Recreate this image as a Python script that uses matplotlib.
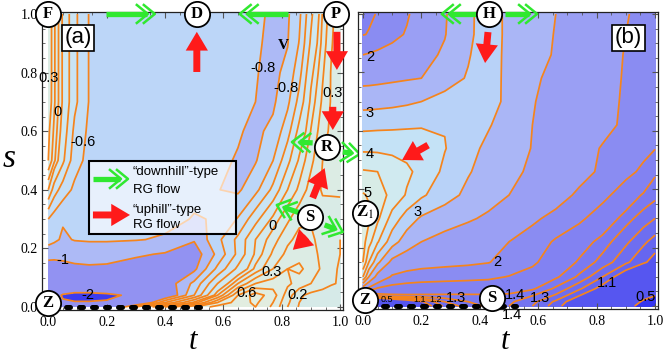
import numpy as np
import matplotlib
matplotlib.use("Agg")
import matplotlib.pyplot as plt
from matplotlib.patches import Rectangle
from matplotlib.ticker import MultipleLocator, FormatStrFormatter

plt.rcParams['mathtext.fontset'] = 'stix'
SANS = 'Liberation Sans'
SERIF = 'Liberation Serif'

# ---- panel (a): field values (rows: s ascending) ----
t_a = [0, 0.02, 0.05, 0.09, 0.14, 0.2, 0.3, 0.4, 0.5, 0.58, 0.65, 0.71, 0.77, 0.82, 0.86, 0.9, 0.94, 0.97, 1.0]
s_a = [0, 0.015, 0.04, 0.08, 0.13, 0.18, 0.23, 0.3, 0.4, 0.5, 0.6, 0.7, 0.8, 0.9, 1.0]
v_a = [
    [-1.5, -1.6, -1.7, -1.75, -1.75, -1.6, -0.6, 0.1, 0.4, 0.55, 0.6, 0.6, 0.48, 0.3, 0.19, 0.15, 0.13, 0.12, 0.12],
    [-1.6, -1.7, -1.95, -1.97, -1.97, -1.95, -1.5, -0.6, 0.05, 0.4, 0.55, 0.62, 0.5, 0.32, 0.2, 0.15, 0.13, 0.12, 0.12],
    [-1.5, -1.8, -2.05, -2.15, -2.15, -2.1, -1.9, -1.3, -0.6, 0.1, 0.5, 0.65, 0.55, 0.35, 0.22, 0.17, 0.15, 0.14, 0.13],
    [-1.25, -1.3, -1.4, -1.45, -1.45, -1.4, -1.3, -1.15, -0.75, -0.2, 0.2, 0.4, 0.45, 0.42, 0.36, 0.3, 0.25, 0.21, 0.19],
    [-1.1, -1.08, -1.06, -1.04, -1.03, -1.04, -1.1, -1.2, -1.05, -0.55, -0.15, 0.13, 0.3, 0.4, 0.42, 0.36, 0.28, 0.22, 0.19],
    [-0.93, -0.95, -0.95, -0.93, -0.92, -0.92, -0.97, -1.02, -1.12, -0.75, -0.35, 0.03, 0.22, 0.33, 0.37, 0.34, 0.27, 0.22, 0.2],
    [-0.72, -0.76, -0.83, -0.79, -0.78, -0.78, -0.79, -0.82, -0.98, -0.655, -0.35, 0.0, 0.158, 0.278, 0.33, 0.32, 0.26, 0.22, 0.2],
    [-0.6, -0.7, -0.78, -0.74, -0.72, -0.72, -0.73, -0.75, -0.81, -0.79, -0.584, -0.27, 0.042, 0.18, 0.277, 0.29, 0.26, 0.23, 0.21],
    [0.0, -0.3, -0.5, -0.64, -0.68, -0.70, -0.72, -0.74, -0.76, -0.795, -0.834, -0.661, -0.35, 0.0, 0.125, 0.247, 0.31, 0.32, 0.33],
    [0.30, 0.13, -0.16, -0.52, -0.66, -0.69, -0.71, -0.73, -0.75, -0.766, -0.813, -0.817, -0.603, -0.258, 0.028, 0.173, 0.30, 0.33, 0.34],
    [0.33, 0.18, -0.07, -0.45, -0.64, -0.69, -0.71, -0.73, -0.75, -0.765, -0.783, -0.84, -0.754, -0.477, -0.135, 0.106, 0.265, 0.32, 0.35],
    [0.39, 0.22, -0.02, -0.35, -0.61, -0.68, -0.71, -0.73, -0.75, -0.755, -0.765, -0.80, -0.834, -0.647, -0.33, 0.036, 0.221, 0.31, 0.36],
    [0.40, 0.22, -0.02, -0.35, -0.61, -0.68, -0.71, -0.73, -0.75, -0.76, -0.76, -0.789, -0.853, -0.744, -0.471, -0.042, 0.186, 0.31, 0.37],
    [0.40, 0.22, -0.02, -0.35, -0.61, -0.68, -0.71, -0.73, -0.75, -0.76, -0.765, -0.78, -0.833, -0.809, -0.59, -0.164, 0.143, 0.29, 0.37],
    [0.40, 0.22, -0.02, -0.35, -0.61, -0.68, -0.71, -0.73, -0.75, -0.76, -0.765, -0.775, -0.82, -0.826, -0.646, -0.248, 0.11, 0.27, 0.37],
]
fill_a = [-3, -2, -1, -0.8, -0.6, -0.4, -0.2, 0, 0.1, 0.2, 0.3, 0.4, 0.5, 0.6, 1.0]
cols_a = ['#3c3cf0', '#9292f2', '#adbaf6', '#bcd6f8', '#c4def6', '#c9e4f4', '#cee8f0',
          '#d2e9ec', '#d6eae8', '#d9ebe6', '#dcece4', '#dfede2', '#e2ede0', '#e4eede']
lines_a = [-2, -1, -0.8, -0.6, -0.4, -0.2, 0, 0.1, 0.2, 0.3, 0.4, 0.5, 0.6]
labels_a = [(0.0, 0.78, '0.3'), (0.033, 0.666, '0'), (0.119, 0.563, '-0.6'),
            (0.736, 0.816, '-0.8'), (0.815, 0.747, '-0.8'), (0.975, 0.73, '0.3'),
            (0.051, 0.16, '-1'), (0.136, 0.041, '-2'), (0.77, 0.276, '0'),
            (0.766, 0.119, '0.3'), (0.68, 0.048, '0.6'), (0.855, 0.041, '0.2')]

# ---- panel (b) ----
t_b = [0, 0.02, 0.05, 0.1, 0.15, 0.2, 0.28, 0.36, 0.43, 0.5, 0.58, 0.66, 0.74, 0.82, 0.9, 0.96, 1.0]
s_b = [0, 0.015, 0.035, 0.06, 0.1, 0.15, 0.22, 0.3, 0.38, 0.46, 0.54, 0.62, 0.7, 0.78, 0.86, 0.93, 1.0]
v_b = [
    [0.5, 0.45, 0.5, 0.7, 0.85, 1.0, 1.22, 1.35, 1.42, 1.4, 1.3, 1.15, 0.95, 0.75, 0.55, 0.45, 0.42],
    [0.6, 0.55, 0.6, 0.8, 0.95, 1.08, 1.3, 1.4, 1.45, 1.42, 1.33, 1.18, 1.0, 0.8, 0.6, 0.48, 0.45],
    [1.0, 1.3, 1.42, 1.46, 1.47, 1.47, 1.47, 1.47, 1.47, 1.46, 1.4, 1.28, 1.1, 0.9, 0.7, 0.55, 0.5],
    [2.2, 1.9, 1.72, 1.66, 1.64, 1.63, 1.62, 1.62, 1.62, 1.6, 1.52, 1.38, 1.22, 1.05, 0.85, 0.7, 0.62],
    [4.0, 3.0, 2.3, 1.95, 1.88, 1.85, 1.83, 1.81, 1.79, 1.74, 1.66, 1.52, 1.38, 1.2, 1.0, 0.85, 0.75],
    [5.0, 4.0, 3.1, 2.35, 2.18, 2.12, 2.08, 2.05, 2.01, 1.9, 1.79, 1.62, 1.48, 1.36, 1.22, 1.12, 1.05],
    [5.2, 4.7, 4.05, 3.2, 2.75, 2.5, 2.32, 2.2, 2.1, 2.0, 1.88, 1.72, 1.58, 1.45, 1.32, 1.22, 1.16],
    [5.3, 5.1, 4.6, 3.8, 3.25, 2.93, 2.72, 2.56, 2.42, 2.27, 2.05, 1.92, 1.8, 1.62, 1.44, 1.35, 1.3],
    [5.05, 4.95, 4.75, 4.35, 3.95, 3.58, 3.2, 2.88, 2.68, 2.5, 2.33, 2.12, 1.95, 1.82, 1.62, 1.48, 1.43],
    [4.55, 4.53, 4.5, 4.3, 4.1, 3.85, 3.4, 3.04, 2.8, 2.62, 2.42, 2.27, 2.1, 1.95, 1.82, 1.7, 1.52],
    [3.9, 3.9, 3.89, 3.87, 3.83, 3.75, 3.52, 3.2, 2.85, 2.62, 2.49, 2.34, 2.12, 1.98, 1.9, 1.82, 1.76],
    [3.35, 3.36, 3.38, 3.4, 3.43, 3.46, 3.48, 3.42, 3.05, 2.7, 2.5, 2.36, 2.22, 2.08, 1.95, 1.85, 1.78],
    [2.8, 2.8, 2.82, 2.86, 2.92, 3.0, 3.2, 3.35, 3.45, 2.7, 2.52, 2.38, 2.25, 2.1, 1.96, 1.86, 1.79],
    [2.35, 2.36, 2.38, 2.42, 2.46, 2.5, 2.75, 3.05, 3.4, 2.75, 2.55, 2.42, 2.28, 2.12, 1.97, 1.87, 1.8],
    [2.0, 2.02, 2.06, 2.14, 2.24, 2.36, 2.56, 2.95, 3.35, 2.8, 2.66, 2.46, 2.3, 2.14, 1.98, 1.88, 1.82],
    [1.74, 1.76, 1.8, 1.9, 2.03, 2.2, 2.48, 2.88, 3.3, 2.85, 2.67, 2.48, 2.33, 2.16, 2.0, 1.9, 1.84],
    [1.7, 1.72, 1.76, 1.84, 1.96, 2.16, 2.46, 2.87, 3.3, 2.85, 2.68, 2.5, 2.35, 2.18, 2.02, 1.92, 1.85],
]
fill_b = [0, 0.5, 1.1, 1.2, 1.3, 1.4, 1.5, 1.75, 2, 2.5, 3, 3.5, 4, 4.5, 5, 6]
cols_b = ['#3434ee', '#5656f0', '#6666f0', '#6e6ef0', '#7474f0', '#7a7af2', '#8282f2', '#8a8cf2',
          '#9a9ff4', '#aab6f6', '#b8d2f8', '#c4e2f6', '#d0eaf0', '#d8ece6', '#e0eee0']
lines_b = [0.5, 1.1, 1.2, 1.3, 1.4, 1.5, 1.75, 2, 2.5, 3, 3.5, 4, 4.5, 5]
labels_b = [(0.024, 0.853, '2', 10.5), (0.024, 0.661, '3', 10.5), (0.024, 0.52, '4', 10.5),
            (0.017, 0.387, '5', 10.5), (0.188, 0.322, '3', 10.5), (0.459, 0.151, '2', 10.5),
            (0.836, 0.079, '1.1', 10.5), (0.966, 0.031, '0.5', 10.5), (0.082, 0.021, '0.5', 6.5),
            (0.193, 0.021, '1.1', 6.5), (0.247, 0.023, '1.2', 6.5), (0.32, 0.027, '1.3', 10.5),
            (0.52, 0.038, '1.4', 10.5), (0.606, 0.027, '1.3', 10.5), (0.51, -0.031, '1.4', 10.5)]

ORANGE = '#f5841c'
RED = '#ff1a1a'
GREEN = '#30e830'

fig = plt.figure(figsize=(6.64, 3.57), dpi=100)
axa = fig.add_axes([0.0628, 0.1303, 0.4538, 0.8347])
axb = fig.add_axes([0.5387, 0.1345, 0.4523, 0.8305])


def setup(ax, xlim, ylim, ylabels):
    ax.set_xlim(*xlim)
    ax.set_ylim(*ylim)
    for a in (ax.xaxis, ax.yaxis):
        a.set_major_locator(MultipleLocator(0.2))
        a.set_minor_locator(MultipleLocator(0.05))
        a.set_major_formatter(FormatStrFormatter('%.1f'))
    ax.tick_params(which='both', direction='in', top=True, right=True, color='#555555')
    ax.tick_params(which='major', length=4, width=0.8)
    ax.tick_params(which='minor', length=2, width=0.6)
    ax.tick_params(axis='x', pad=4)
    ax.tick_params(axis='y', pad=3, labelleft=ylabels)
    for lab in ax.get_xticklabels() + ax.get_yticklabels():
        lab.set_fontfamily(SERIF)
        lab.set_fontsize(10)
    for sp in ax.spines.values():
        sp.set_linewidth(0.9)
        sp.set_color('#222222')


def red_arrow(ax, tail, tip):
    ax.annotate('', xy=tip, xytext=tail, annotation_clip=False, zorder=7,
                arrowprops=dict(arrowstyle='simple,head_length=1.35,head_width=1.6,tail_width=0.5',
                                fc=RED, ec='none', mutation_scale=10, shrinkA=0, shrinkB=0))


def green_arrow(ax, tail, tip):
    tr = ax.transData
    p0 = tr.transform(tail)
    p1 = tr.transform(tip)
    u = (p1 - p0) / np.hypot(*(p1 - p0))
    n = np.array([-u[1], u[0]])
    inv = tr.inverted()
    sh = inv.transform([p0, p1 - u * 8])
    ax.plot(sh[:, 0], sh[:, 1], color=GREEN, lw=3.8, solid_capstyle='butt', zorder=7, clip_on=False)
    for off in (0, 7):
        a = p1 - u * off
        q = inv.transform([a - u * 11 + n * 9, a, a - u * 11 - n * 9])
        ax.plot(q[:, 0], q[:, 1], color=GREEN, lw=1.8, zorder=7, clip_on=False)


def circ(ax, t, s, txt):
    ax.scatter([t], [s], s=330, facecolor='white', edgecolor='black', linewidth=1.3,
               zorder=8, clip_on=False)
    ax.text(t, s, txt, ha='center', va='center', fontsize=12, fontweight='bold',
            family=SERIF, zorder=9, clip_on=False)


# panel (a)
setup(axa, (-0.0226, 1.01), (-0.012, 1.005), True)
axa.contourf(t_a, s_a, v_a, levels=fill_a, colors=cols_a, zorder=1)
axa.contour(t_a, s_a, v_a, levels=lines_a, colors=ORANGE, linewidths=1.25,
            linestyles='solid', zorder=2)
for t, s, txt in labels_a:
    axa.text(t, s, txt, ha='center', va='center', fontsize=10.5, family=SANS, zorder=4)
axa.text(0.804, 0.894, 'V', ha='center', va='center', fontsize=11, fontweight='bold', family=SERIF, zorder=4)
axa.text(0.102, 0.918, '(a)', ha='center', va='center', fontsize=16, family=SANS, zorder=6,
         bbox=dict(boxstyle='square,pad=0.12', fc='white', ec='black', lw=1.2))

# legend box
axa.add_patch(Rectangle((0.139, 0.249), 0.504, 0.249, fc=(1, 1, 1, 0.65), ec='black', lw=1.5, zorder=5))
green_arrow(axa, (0.153, 0.437), (0.273, 0.437))
red_arrow(axa, (0.153, 0.314), (0.28, 0.314))
axa.text(0.29, 0.461, '\u201cdownhill\u201d-type', fontsize=9.5, family=SANS, va='center', zorder=6)
axa.text(0.29, 0.399, 'RG flow', fontsize=9.5, family=SANS, va='center', zorder=6)
axa.text(0.29, 0.331, '\u201cuphill\u201d-type', fontsize=9.5, family=SANS, va='center', zorder=6)
axa.text(0.29, 0.28, 'RG flow', fontsize=9.5, family=SANS, va='center', zorder=6)

axa.plot([0.06, 0.52], [0, 0], color='black', lw=3.6, linestyle=(0, (0.8, 1.8)),
         dash_capstyle='round', zorder=6, clip_on=False)

green_arrow(axa, (0.198, 1.0), (0.365, 1.0))
green_arrow(axa, (0.82, 1.0), (0.656, 1.0))
green_arrow(axa, (0.906, 0.56), (0.835, 0.563))
green_arrow(axa, (1.009, 0.529), (1.067, 0.522))
green_arrow(axa, (0.862, 0.321), (0.783, 0.348))
green_arrow(axa, (0.947, 0.28), (1.009, 0.256))
red_arrow(axa, (0.509, 0.802), (0.509, 0.939))
red_arrow(axa, (0.989, 0.939), (0.989, 0.809))
red_arrow(axa, (0.975, 0.683), (0.975, 0.604))
red_arrow(axa, (0.906, 0.372), (0.947, 0.474))
red_arrow(axa, (0.886, 0.239), (0.838, 0.195))

circ(axa, 0.0, 1.0, 'F')
circ(axa, 0.51, 1.0, 'D')
circ(axa, 0.986, 1.0, 'P')
circ(axa, 0.954, 0.546, 'R')
circ(axa, 0.897, 0.307, 'S')
circ(axa, 0.0, 0.014, 'Z')

# panel (b)
setup(axb, (-0.018, 1.01), (-0.01, 1.005), False)
axb.contourf(t_b, s_b, v_b, levels=fill_b, colors=cols_b, zorder=1)
axb.contour(t_b, s_b, v_b, levels=lines_b, colors=ORANGE, linewidths=1.25,
            linestyles='solid', zorder=2)
for t, s, txt, fs in labels_b:
    axb.text(t, s, txt, ha='center', va='center', fontsize=fs, family=SANS, zorder=4, clip_on=False)
axb.text(0.908, 0.918, '(b)', ha='center', va='center', fontsize=16, family=SANS, zorder=6,
         bbox=dict(boxstyle='square,pad=0.12', fc='white', ec='black', lw=1.2))
axb.plot([0.068, 0.525], [0, 0], color='black', lw=3.6, linestyle=(0, (0.8, 1.8)),
         dash_capstyle='round', zorder=6, clip_on=False)

green_arrow(axb, (0.39, 1.0), (0.27, 1.0))
green_arrow(axb, (0.486, 1.0), (0.596, 1.0))
red_arrow(axb, (0.428, 0.938), (0.418, 0.832))
red_arrow(axb, (0.223, 0.551), (0.134, 0.5))

circ(axb, 0.432, 1.0, 'H')
circ(axb, 0.007, 0.32, r'$\mathbf{Z}_{1}$')
circ(axb, 0.007, 0.02, 'Z')
circ(axb, 0.44, 0.027, 'S')

# axis titles
fig.text(9 / 664, (357 - 167) / 357, 's', fontsize=24, style='italic', family=SERIF, ha='center', va='baseline')
fig.text(193 / 664, 1 / 357, 't', fontsize=22, style='italic', family=SERIF, ha='center', va='bottom')
fig.text(505 / 664, 1 / 357, 't', fontsize=22, style='italic', family=SERIF, ha='center', va='bottom')

fig.savefig('out.png', dpi=100)
